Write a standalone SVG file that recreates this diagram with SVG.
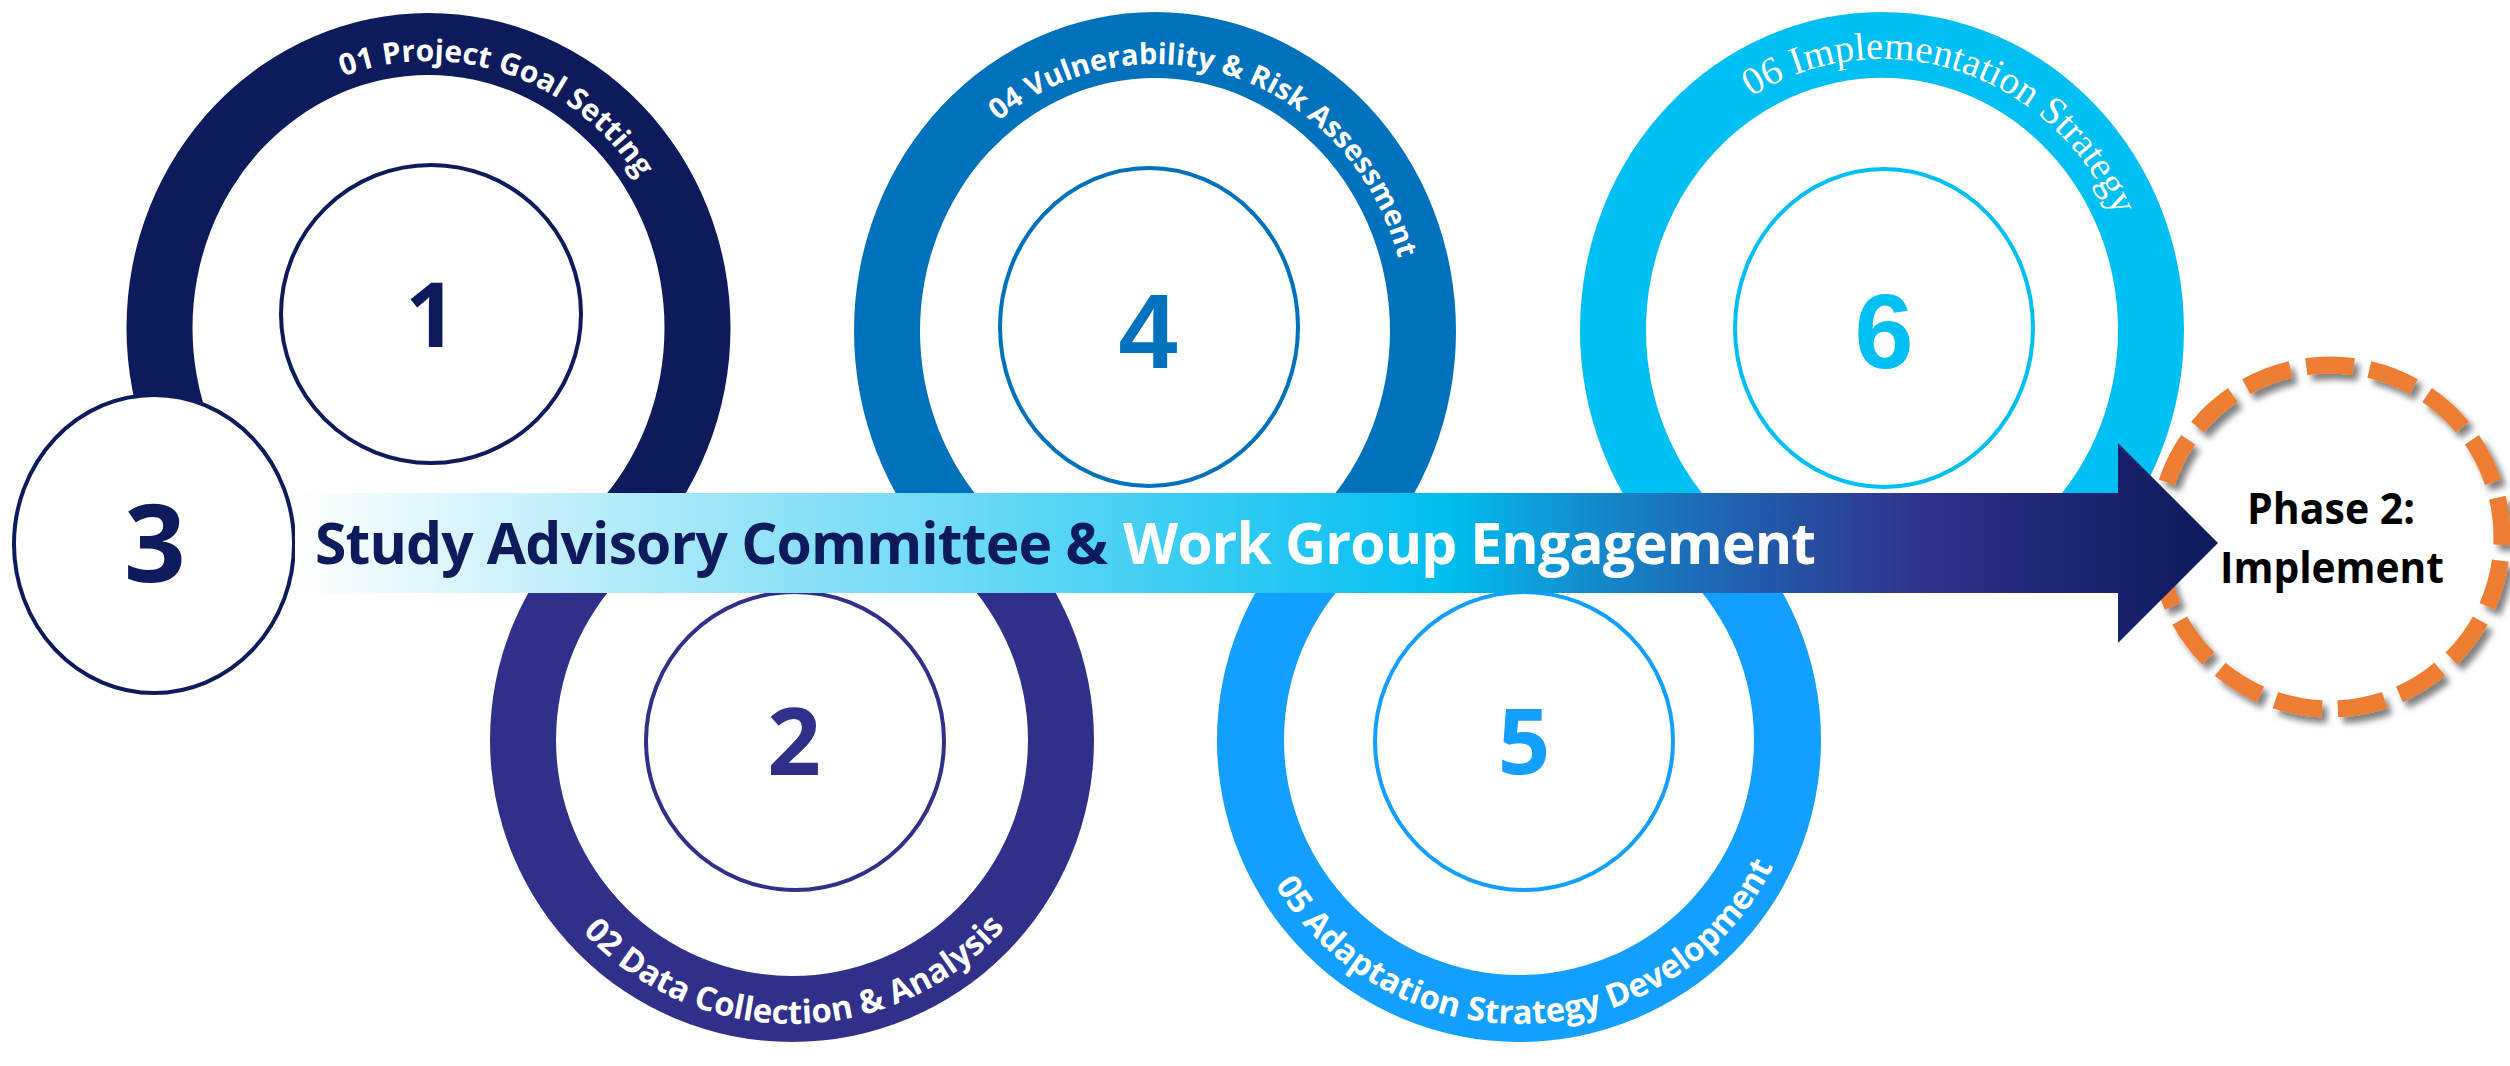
<svg xmlns="http://www.w3.org/2000/svg" width="2510" height="1066" viewBox="0 0 2510 1066">
<defs>
<style>
.lbl{font-family:"Open Sans","Noto Sans",sans-serif;font-weight:700;fill:#ffffff;}
.ser{font-family:"Liberation Serif","DejaVu Serif",serif;font-weight:400;fill:#ffffff;}
.num{font-family:"Open Sans","Noto Sans",sans-serif;font-weight:700;text-anchor:middle;}
.numA{font-family:"Liberation Sans",Arial,sans-serif;font-weight:700;text-anchor:middle;}
.thin{fill:#ffffff;stroke-width:4;}
.band{font-family:"Open Sans","Noto Sans",sans-serif;font-weight:700;font-size:57px;}
.ph{font-family:"Open Sans","Noto Sans",sans-serif;font-weight:700;font-size:43px;fill:#000000;}
</style>
<clipPath id="clipTop"><rect x="0" y="0" width="2510" height="560"/></clipPath>
<clipPath id="clipBot"><rect x="0" y="520" width="2510" height="546"/></clipPath>
<linearGradient id="bandGrad" gradientUnits="userSpaceOnUse" x1="295" y1="0" x2="2218" y2="0">
<stop offset="0" stop-color="#ffffff"/>
<stop offset="0.24" stop-color="#94e3f7"/>
<stop offset="0.34" stop-color="#6fdaf6"/>
<stop offset="0.60" stop-color="#00bef0"/>
<stop offset="0.663" stop-color="#1192d2"/>
<stop offset="0.741" stop-color="#1f66b3"/>
<stop offset="0.85" stop-color="#30308a"/>
<stop offset="1" stop-color="#0d1a5b"/>
</linearGradient>
<filter id="shadow" x="-20%" y="-20%" width="140%" height="140%">
<feDropShadow dx="5" dy="6" stdDeviation="3" flood-color="#000000" flood-opacity="0.5"/>
</filter>
<path id="tp1" d="M 175.5,328 A 253 267 0 0 1 681.5,328"/>
<path id="tp4" d="M 902,331 A 253 267 0 0 1 1408,331"/>
<path id="tp6" d="M 1625,330 A 257 271 0 0 1 2139,330"/>
<path id="tp2" d="M 508,740 A 284 284 0 0 0 1076,740"/>
<path id="tp5" d="M 1235,740 A 284 284 0 0 0 1803,740"/>
</defs>
<rect x="0" y="0" width="2510" height="1066" fill="#ffffff"/>

<g id="node-1">
<path clip-path="url(#clipTop)" fill="#0d1a5b" fill-rule="evenodd" d="M 126.5,328 A 302 315 0 1 0 730.5,328 A 302 315 0 1 0 126.5,328 Z M 192.5,328 A 236 253 0 1 0 664.5,328 A 236 253 0 1 0 192.5,328 Z"/>
<ellipse class="thin" cx="431" cy="314" rx="150" ry="149" stroke="#0d1a5b"/>
<text class="num" x="431" y="347" font-size="90" fill="#0d1a5b">1</text>
<text class="lbl" font-size="30"><textPath href="#tp1" startOffset="60%" text-anchor="middle">01 Project Goal Setting</textPath></text>
</g>

<g id="node-2">
<path clip-path="url(#clipBot)" fill="#30308b" fill-rule="evenodd" d="M 490,740 A 302 302 0 1 0 1094,740 A 302 302 0 1 0 490,740 Z M 556,740 A 236 236 0 1 0 1028,740 A 236 236 0 1 0 556,740 Z"/>
<circle class="thin" cx="795" cy="741" r="149" stroke="#30308b"/>
<text class="num" x="794" y="775" font-size="94" fill="#30308b">2</text>
<text class="lbl" font-size="33"><textPath href="#tp2" startOffset="50.3%" text-anchor="middle">02 Data Collection &amp; Analysis</textPath></text>
</g>

<g id="node-4">
<path clip-path="url(#clipTop)" fill="#0071bc" fill-rule="evenodd" d="M 854,331 A 301 319 0 1 0 1456,331 A 301 319 0 1 0 854,331 Z M 920,331 A 235 253 0 1 0 1390,331 A 235 253 0 1 0 920,331 Z"/>
<ellipse class="thin" cx="1149" cy="327" rx="149" ry="159" stroke="#0071bc"/>
<text class="numA" x="1148" y="368" font-size="106" fill="#0071bc">4</text>
<text class="lbl" font-size="29"><textPath href="#tp4" startOffset="60.1%" text-anchor="middle">04 Vulnerability &amp; Risk Assessment</textPath></text>
</g>

<g id="node-5">
<path clip-path="url(#clipBot)" fill="#139ffe" fill-rule="evenodd" d="M 1217,740 A 302 302 0 1 0 1821,740 A 302 302 0 1 0 1217,740 Z M 1284,740 A 235 235 0 1 0 1754,740 A 235 235 0 1 0 1284,740 Z"/>
<circle class="thin" cx="1524" cy="741" r="149" stroke="#139ffe"/>
<text class="num" x="1524" y="774" font-size="92" fill="#139ffe">5</text>
<text class="lbl" font-size="33"><textPath href="#tp5" startOffset="51.2%" text-anchor="middle">05 Adaptation Strategy Development</textPath></text>
</g>

<g id="node-6">
<path clip-path="url(#clipTop)" fill="#00c0f3" fill-rule="evenodd" d="M 1580,330 A 302 318 0 1 0 2184,330 A 302 318 0 1 0 1580,330 Z M 1646,330 A 236 252 0 1 0 2118,330 A 236 252 0 1 0 1646,330 Z"/>
<ellipse class="thin" cx="1884" cy="328" rx="149" ry="159" stroke="#00c0f3"/>
<text class="numA" x="1884" y="368" font-size="106" fill="#00c0f3">6</text>
<text class="ser" font-size="39"><textPath href="#tp6" startOffset="59.6%" text-anchor="middle">06 Implementation Strategy</textPath></text>
</g>

<g id="node-3">
<ellipse cx="154" cy="544" rx="140" ry="149" fill="#ffffff" stroke="#0d1a5b" stroke-width="4"/>
<text class="num" x="155" y="582" font-size="108" fill="#0d1a5b">3</text>
</g>

<g id="node-phase2">
<circle cx="2330" cy="537" r="172" fill="#ffffff"/>
<circle cx="2330" cy="537" r="172" fill="none" stroke="#ed7d31" stroke-width="17" pathLength="1088" stroke-dasharray="48 16" stroke-dashoffset="40" filter="url(#shadow)"/>
<text class="ph" x="2247" y="524" textLength="168" lengthAdjust="spacingAndGlyphs">Phase 2:</text>
<text class="ph" x="2220" y="583" textLength="224" lengthAdjust="spacingAndGlyphs">Implement</text>
</g>

<g id="connectors">
<path d="M 295,493 L 2118,493 L 2118,443 L 2218,543 L 2118,643 L 2118,593 L 295,593 Z" fill="url(#bandGrad)"/>
<text class="band" x="315" y="564" fill="#0d1a5b" textLength="793" lengthAdjust="spacing">Study Advisory Committee &amp;</text>
<text class="band" x="1123" y="564" fill="#ffffff" textLength="693" lengthAdjust="spacing">Work Group Engagement</text>
</g>
</svg>
